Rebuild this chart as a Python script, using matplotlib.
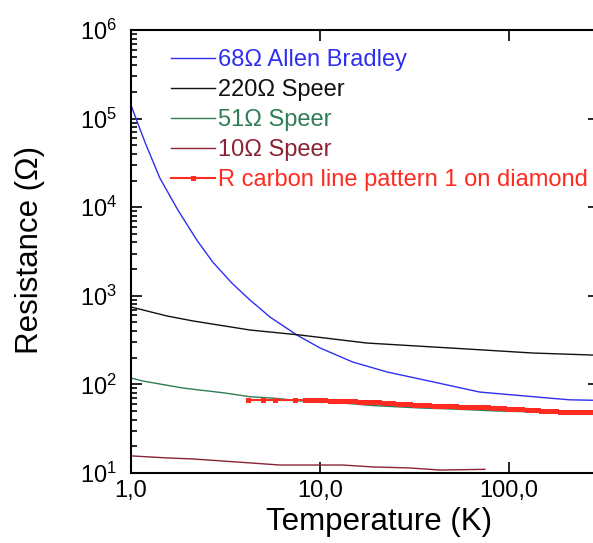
import matplotlib
matplotlib.use("Agg")
import matplotlib.pyplot as plt
from matplotlib.ticker import FixedLocator, FixedFormatter, LogLocator, NullFormatter, NullLocator

plt.rcParams['font.family'] = ['Liberation Sans', 'DejaVu Sans']

# ---- data ----
t_allen = [1.0, 1.07, 1.19, 1.42, 1.77, 2.23, 2.71, 3.42, 4.26, 4.93, 5.43, 7.55, 10.0, 14.9, 22.7, 33.8, 70, 164, 210, 300]
r_allen = [142000, 96400, 53100, 21400, 9300, 4260, 2400, 1390, 897, 690, 577, 361, 258, 179, 138, 115, 82, 70, 67, 66]

t_220 = [1.0, 1.55, 2.13, 4.26, 7.84, 17.7, 60, 134, 268, 300]
r_220 = [748, 592, 520, 411, 361, 293, 251, 226, 215, 213]

t_51 = [1.0, 1.16, 1.88, 3.14, 4.26, 5.78, 8.65, 13.0, 15.9, 19.5, 33.8, 50.8, 86.3, 130, 200]
r_51 = [118, 109, 91, 80, 72.6, 69.7, 64, 61.7, 59.6, 57.5, 54.2, 52.7, 50.1, 49, 47]

t_10 = [1.0, 1.55, 2.13, 4.26, 6.14, 7.84, 13.2, 19.1, 29.9, 43.1, 74.6]
r_10 = [15.6, 14.8, 14.4, 13.0, 12.3, 12.3, 12.3, 11.7, 11.4, 10.8, 11.0]

t_carbon = [4.15, 5.0, 5.8, 7.4, 8.3, 8.85, 9.4, 10.0, 10.6, 11.3, 12.0, 12.7, 13.5, 14.4, 15.3,
            16.3, 17.3, 18.4, 19.5, 20.5, 21.5, 22.5, 23.5, 24.5, 25.5, 26.5, 27.5, 28.5, 30, 31.5,
            33, 34.5, 36, 38, 40, 42, 44, 46, 48, 50, 52.5, 55, 57.5, 60, 63, 66, 69, 72, 75, 78,
            82, 86, 90, 94, 98, 103, 108, 113, 118, 124, 130, 136, 142, 148, 155, 162, 170, 178,
            186, 195, 204, 214, 224, 235, 246, 258, 270, 283, 296]
r_carbon = [66.7, 66.7, 66.6, 66.6, 66.5, 66.4, 66.3, 66.2, 66.0, 65.8, 65.5, 65.3, 65.0, 64.7, 64.4,
            64.1, 63.9, 63.6, 63.2, 62.8, 62.4, 62.0, 61.6, 61.2, 60.8, 60.4, 60.1, 59.8, 59.4, 59.0,
            58.7, 58.4, 58.2, 57.9, 57.7, 57.5, 57.3, 57.1, 56.9, 56.7, 56.5, 56.3, 56.1, 55.9, 55.8,
            55.7, 55.6, 55.5, 55.3, 55.0, 54.6, 54.2, 53.9, 53.6, 53.3, 53.0, 52.7, 52.4, 52.1, 51.8,
            51.5, 51.2, 50.9, 50.6, 50.3, 50.0, 49.8, 49.6, 49.4, 49.2, 49.0, 48.9, 48.7, 48.6, 48.5,
            48.4, 48.3, 48.2, 48.1]

labels = ["68\u03a9 Allen Bradley", "220\u03a9 Speer", "51\u03a9 Speer", "10\u03a9 Speer",
          "R carbon line pattern 1 on diamond"]
colors = ["#2f2ff0", "#111111", "#2e7d55", "#8b2235", "#ff2a20"]

x_ticks = [1, 10, 100]
x_ticklabels = ["1,0", "10,0", "100,0"]
y_ticks = [10, 100, 1000, 1e4, 1e5, 1e6]
y_ticklabels = [r"$\mathregular{10^{1}}$", r"$\mathregular{10^{2}}$", r"$\mathregular{10^{3}}$",
                r"$\mathregular{10^{4}}$", r"$\mathregular{10^{5}}$", r"$\mathregular{10^{6}}$"]

W, H = 593, 543
fig = plt.figure(figsize=(W / 100, H / 100), dpi=100)
ax = fig.add_axes([131 / W, 70 / H, 468 / W, 443 / H])

ax.plot(t_allen, r_allen, color=colors[0], lw=1.0, label=labels[0])
ax.plot(t_220, r_220, color=colors[1], lw=1.0, label=labels[1])
ax.plot(t_51, r_51, color=colors[2], lw=1.0, label=labels[2])
ax.plot(t_10, r_10, color=colors[3], lw=1.0, label=labels[3])
ax.plot(t_carbon, r_carbon, color=colors[4], lw=1.5, marker='s', ms=3.6, mew=0,
        label=labels[4])

ax.set_xscale('log')
ax.set_yscale('log')
ax.set_xlim(1, 300)
ax.set_ylim(10, 1e6)

ax.xaxis.set_major_locator(FixedLocator(x_ticks))
ax.xaxis.set_major_formatter(FixedFormatter(x_ticklabels))
ax.xaxis.set_minor_locator(NullLocator())
ax.yaxis.set_major_locator(FixedLocator(y_ticks))
ax.yaxis.set_major_formatter(FixedFormatter(y_ticklabels))
ax.yaxis.set_minor_locator(LogLocator(base=10, subs=range(2, 10), numticks=20))
ax.yaxis.set_minor_formatter(NullFormatter())

ax.tick_params(which='both', direction='in', top=True, right=True, labelsize=17, width=1.2)
ax.tick_params(which='major', length=8)
ax.tick_params(axis='y', which='major', pad=10)
ax.tick_params(axis='x', which='major', pad=5)
ax.tick_params(which='minor', length=4.5)
for s in ax.spines.values():
    s.set_linewidth(1.5)

fig.text(30 / W, 1 - 250 / H, "Resistance (\u03a9)", rotation=90, fontsize=22.5,
         ha='center', va='center')
fig.text(379 / W, 1 - 522 / H, "Temperature (K)", fontsize=22.5, ha='center', va='center')

leg = ax.legend(loc='upper left', bbox_to_anchor=((171 - 131) / 468, 1 - 19 / 443),
                frameon=False, fontsize=17, handlelength=1.85, handletextpad=0.15,
                labelspacing=0.34, borderaxespad=0, borderpad=0, numpoints=1,
                labelcolor='linecolor')

fig.savefig("out.png", dpi=100, facecolor='white')
